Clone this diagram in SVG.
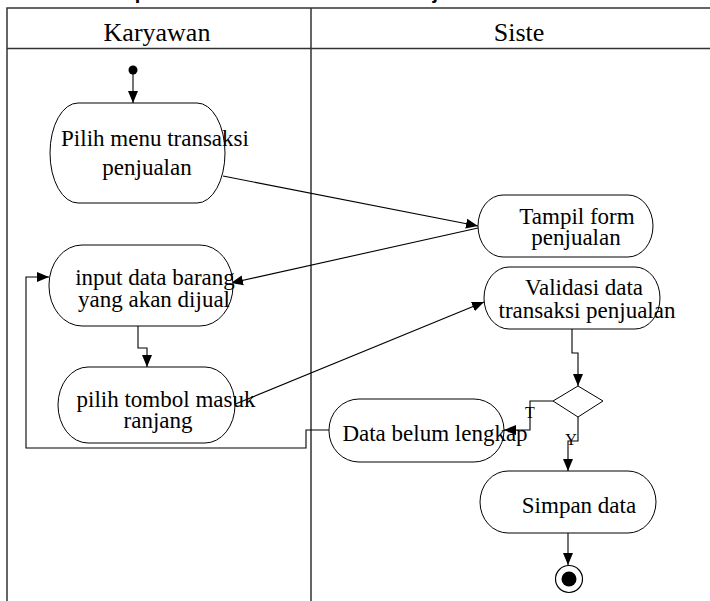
<svg xmlns="http://www.w3.org/2000/svg" width="710" height="601" viewBox="0 0 710 601">
<style>
.frame{stroke:#333;stroke-width:1.5;fill:none}
.node{fill:#fff;stroke:#000;stroke-width:1}
.lbl{font-family:"Liberation Serif","Times New Roman",serif;font-size:23px;fill:#000;text-anchor:middle}
.hdr{font-family:"Liberation Serif","Times New Roman",serif;font-size:26px;fill:#000;text-anchor:middle}
.small{font-family:"Liberation Serif","Times New Roman",serif;font-size:16px;fill:#000;text-anchor:middle}
.conn{stroke:#000;stroke-width:1.1;fill:none}
.title{font-family:"Liberation Sans",Arial,sans-serif;font-weight:bold;font-size:20px;fill:#000}
</style>
<defs>
<marker id="arr" markerUnits="userSpaceOnUse" markerWidth="12" markerHeight="12" viewBox="0 0 12 12" refX="12" refY="6" orient="auto">
<path d="M0,1 L12,6 L0,11 Z" fill="#000"/>
</marker>
</defs>
<rect width="710" height="601" fill="#fff"/>
<text class="title" x="110" y="-1" textLength="398" lengthAdjust="spacing">Input Data Transaksi Penjualan</text>
<g id="swimlanes">
<path class="frame" d="M7 601 L7 8 L712 8 M7 48.5 L712 48.5 M311 8 L311 601"/>
<text class="hdr" x="157" y="41">Karyawan</text>
<text class="hdr" x="519" y="41">Siste</text>
</g>
<g id="connectors">
<path class="conn" d="M133 74 L133 103" marker-end="url(#arr)"/>
<path class="conn" d="M223 176 L478 226" marker-end="url(#arr)"/>
<path class="conn" d="M478 228 L231 283" marker-end="url(#arr)"/>
<path class="conn" d="M138 326 L138 348 L147 348 L147 367" marker-end="url(#arr)"/>
<path class="conn" d="M233 405 L484 302" marker-end="url(#arr)"/>
<path class="conn" d="M572 329 L572 353 L578 353 L578 386" marker-end="url(#arr)"/>
<path class="conn" d="M553 401 L530 401 L530 430 L504 430" marker-end="url(#arr)"/>
<path class="conn" d="M578 417 L578 441 L568 441 L568 471" marker-end="url(#arr)"/>
<path class="conn" d="M568 533 L568 565" marker-end="url(#arr)"/>
<path class="conn" d="M329 430 L306 430 L306 448 L26 448 L26 277 L49 277" marker-end="url(#arr)"/>
<text class="small" x="530" y="418">T</text>
<text class="small" x="571" y="445">Y</text>
</g>
<g id="start"><circle cx="133" cy="70" r="4.5" fill="#000"/></g>
<g id="n_pilih_menu">
<rect class="node" x="50" y="103" width="175" height="100" rx="28" ry="50"/>
<text class="lbl" x="155" y="146">Pilih menu transaksi</text>
<text class="lbl" x="147" y="175">penjualan</text>
</g>
<g id="n_tampil_form">
<rect class="node" x="478" y="195" width="175" height="62" rx="25" ry="31"/>
<text class="lbl" x="577" y="224">Tampil form</text>
<text class="lbl" x="576" y="245">penjualan</text>
</g>
<g id="n_input_data">
<rect class="node" x="49" y="245" width="184" height="81" rx="33" ry="40"/>
<text class="lbl" x="155" y="285">input data barang</text>
<text class="lbl" x="154" y="307">yang akan dijual</text>
</g>
<g id="n_validasi">
<rect class="node" x="484" y="267" width="176" height="62" rx="25" ry="31"/>
<text class="lbl" x="584" y="295">Validasi data</text>
<text class="lbl" x="587" y="318">transaksi penjualan</text>
</g>
<g id="n_pilih_tombol">
<rect class="node" x="58" y="367" width="177" height="76" rx="30" ry="38"/>
<text class="lbl" x="166" y="407">pilih tombol masuk</text>
<text class="lbl" x="158" y="428">ranjang</text>
</g>
<g id="decision">
<path class="node" d="M578 386 L603 401 L578 417 L553 401 Z"/>
</g>
<g id="n_data_belum">
<rect class="node" x="329" y="399" width="175" height="63" rx="30" ry="31"/>
<text class="lbl" x="435" y="441">Data belum lengkap</text>
</g>
<g id="n_simpan">
<rect class="node" x="480" y="471" width="176" height="62" rx="28" ry="31"/>
<text class="lbl" x="579" y="513">Simpan data</text>
</g>
<g id="end">
<circle cx="569" cy="579" r="13.5" fill="#fff" stroke="#000" stroke-width="1.2"/>
<circle cx="569" cy="579" r="7.5" fill="#000"/>
</g>
</svg>
